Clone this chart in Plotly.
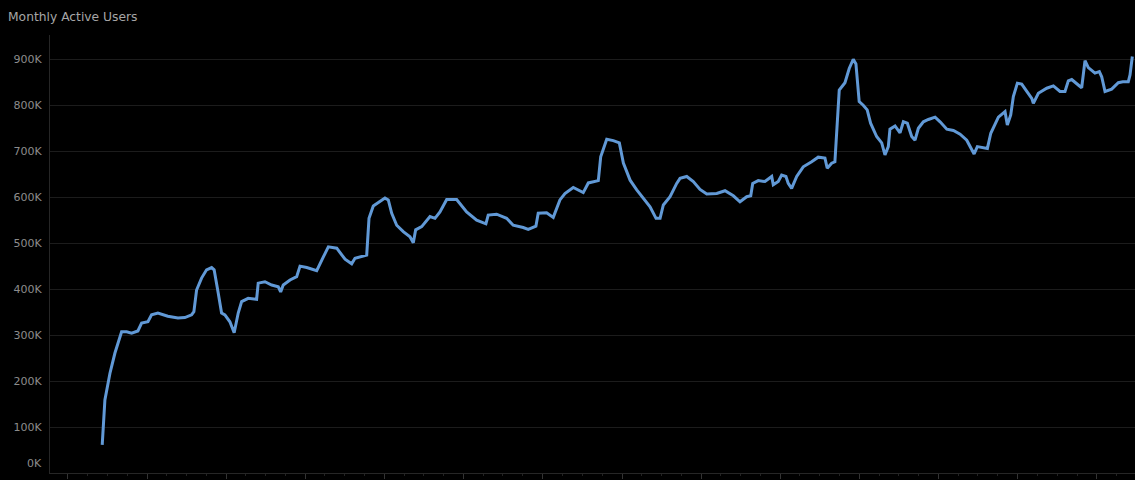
import plotly.graph_objects as go
import pandas as pd

# decimal year positions of samples
year_pos = [
    2010.433, 2010.467, 2010.531, 2010.594, 2010.678, 2010.742, 2010.805, 2010.884, 2010.931,
    2011.011, 2011.057, 2011.137, 2011.263, 2011.390, 2011.478, 2011.563, 2011.592, 2011.626,
    2011.689, 2011.752, 2011.816, 2011.848, 2011.899, 2011.942, 2011.984, 2012.047, 2012.101,
    2012.152, 2012.195, 2012.278, 2012.384, 2012.404, 2012.489, 2012.574, 2012.657, 2012.687,
    2012.720, 2012.805, 2012.889, 2012.931, 2013.016, 2013.142, 2013.226, 2013.289, 2013.395,
    2013.500, 2013.584, 2013.626, 2013.774, 2013.803, 2013.857, 2013.963, 2014.005, 2014.047,
    2014.090, 2014.153, 2014.236, 2014.321, 2014.363, 2014.393, 2014.469, 2014.574, 2014.637,
    2014.700, 2014.785, 2014.911, 2015.037, 2015.164, 2015.281, 2015.310, 2015.416, 2015.543,
    2015.626, 2015.752, 2015.816, 2015.913, 2015.942, 2016.048, 2016.132, 2016.216, 2016.279,
    2016.384, 2016.447, 2016.510, 2016.574, 2016.700, 2016.730, 2016.806, 2016.889, 2016.965,
    2017.016, 2017.101, 2017.185, 2017.269, 2017.353, 2017.429, 2017.480, 2017.521, 2017.606,
    2017.690, 2017.732, 2017.817, 2017.900, 2017.985, 2018.070, 2018.196, 2018.301, 2018.406,
    2018.490, 2018.575, 2018.626, 2018.651, 2018.721, 2018.806, 2018.891, 2018.911, 2018.974,
    2019.017, 2019.071, 2019.100, 2019.143, 2019.207, 2019.290, 2019.396, 2019.479, 2019.564,
    2019.593, 2019.649, 2019.690, 2019.745, 2019.817, 2019.871, 2019.922, 2019.956, 2019.997,
    2020.048, 2020.098, 2020.141, 2020.217, 2020.281, 2020.322, 2020.364, 2020.385, 2020.449,
    2020.512, 2020.554, 2020.604, 2020.659, 2020.701, 2020.743, 2020.806, 2020.869, 2020.954,
    2021.017, 2021.102, 2021.185, 2021.270, 2021.354, 2021.405, 2021.447, 2021.488, 2021.615,
    2021.658, 2021.712, 2021.754, 2021.838, 2021.867, 2021.910, 2021.943, 2021.994, 2022.049,
    2022.113, 2022.176, 2022.196, 2022.259, 2022.365, 2022.449, 2022.533, 2022.596, 2022.638,
    2022.681, 2022.764, 2022.807, 2022.849, 2022.891, 2022.975, 2023.030, 2023.060, 2023.102,
    2023.186, 2023.270, 2023.327, 2023.396, 2023.418, 2023.447,
]

# monthly active users (thousands)
mau_k = [
    61, 159, 217, 261, 307, 307, 304, 309, 326,
    329, 344, 348, 341, 337, 338, 344, 351, 398,
    424, 442, 447, 442, 392, 348, 344, 329, 305,
    348, 373, 380, 378, 413, 416, 409, 405, 394,
    409, 420, 427, 450, 447, 440, 470, 492, 489,
    465, 455, 467, 474, 554, 581, 592, 598, 594,
    565, 539, 525, 514, 501, 529, 536, 558, 554,
    568, 595, 595, 568, 550, 542, 561, 563, 554,
    539, 534, 530, 537, 565, 566, 556, 594, 608,
    621, 616, 610, 631, 636, 688, 726, 723, 718,
    674, 637, 616, 598, 579, 554, 554, 583, 601,
    630, 641, 645, 634, 617, 607, 608, 614, 603,
    590, 601, 603, 630, 636, 634, 645, 627, 634,
    648, 645, 630, 619, 645, 666, 677, 687, 685,
    663, 674, 677, 833, 849, 880, 900, 890, 808,
    800, 790, 761, 732, 718, 692, 710, 748, 755,
    740, 764, 761, 732, 724, 750, 764, 769, 774,
    764, 748, 745, 737, 724, 706, 694, 710, 706,
    739, 757, 774, 786, 757, 779, 819, 848, 846,
    830, 815, 804, 826, 837, 842, 830, 830, 853,
    856, 844, 838, 897, 882, 870, 873, 862, 830,
    835, 849, 851, 851, 866, 906,
]

x_range_years = [2009.773, 2023.481]
y_ticks_k = [100, 200, 300, 400, 500, 600, 700, 800, 900]
y_tick_text = [f"{v}K" for v in y_ticks_k]
zero_label = "0K"


def to_date(t):
    y = int(t)
    start = pd.Timestamp(year=y, month=1, day=1)
    end = pd.Timestamp(year=y + 1, month=1, day=1)
    return start + (end - start) * (t - y)


dates = [to_date(t) for t in year_pos]
values = [v * 1000 for v in mau_k]

FONT = "DejaVu Sans, Verdana, sans-serif"
TICK_COLOR = "#8c8c8c"

fig = go.Figure()
fig.add_trace(go.Scatter(
    x=dates, y=values, mode="lines",
    line=dict(color="#6199d6", width=3),
    hoverinfo="skip", showlegend=False,
))

fig.update_layout(
    width=1135, height=480,
    paper_bgcolor="#000000", plot_bgcolor="#000000",
    margin=dict(l=50, r=0, t=35, b=7),
    font=dict(family=FONT, color=TICK_COLOR, size=11),
    title=dict(
        text="Monthly Active Users", xref="container", yref="container",
        x=8 / 1135, y=1 - 17 / 480, xanchor="left", yanchor="middle",
        font=dict(family=FONT, size=12.3, color="#a6a6a6"),
    ),
    showlegend=False,
)
# the bottom label sits a little above the axis, as in the reference
fig.add_annotation(
    text=zero_label, xref="paper", yref="y", x=0, y=0,
    xanchor="right", yanchor="middle", xshift=-6, yshift=10,
    showarrow=False, font=dict(family=FONT, size=11, color=TICK_COLOR),
)
fig.update_xaxes(
    type="date",
    range=[to_date(x_range_years[0]), to_date(x_range_years[1])],
    showgrid=False, zeroline=False,
    showline=True, linecolor="#262626", linewidth=1,
    showticklabels=False,
    ticks="outside", ticklen=5, tickcolor="#333333",
    tick0="2010-01-01", dtick="M12",
    minor=dict(ticks="outside", ticklen=2, tickcolor="#222222", dtick="M3", showgrid=False),
)
fig.update_yaxes(
    range=[0, 952800],
    tickvals=[v * 1000 for v in y_ticks_k], ticktext=y_tick_text,
    showgrid=True, gridcolor="#1c1c1c", gridwidth=1,
    zeroline=False,
    showline=True, linecolor="#262626", linewidth=1,
    ticks="", ticklabelstandoff=5,
    tickfont=dict(family=FONT, size=11, color=TICK_COLOR),
)

fig.write_html(
    "out.html",
    config={"displayModeBar": False},
    post_script="document.body.style.margin='0px';document.body.style.background='#000';",
)
